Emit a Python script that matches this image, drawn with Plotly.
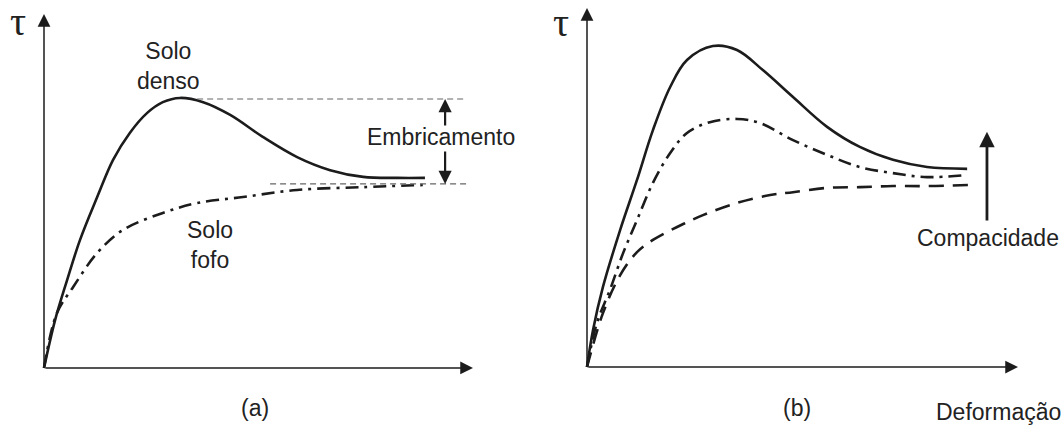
import plotly.graph_objects as go

# Panel (a): dense vs loose soil (strain, shear stress in arbitrary units)
a_dense_x = [0, 0.26, 0.54, 0.84, 1.24, 1.61, 2.00, 2.40, 2.77, 3.17, 3.71, 4.34, 5.10, 5.90, 6.67, 7.44, 8.23, 8.88]
a_dense_y = [0, 1.36, 2.49, 3.62, 4.83, 5.88, 6.64, 7.20, 7.51, 7.63, 7.51, 7.15, 6.53, 5.96, 5.59, 5.40, 5.37, 5.37]
a_loose_x = [0, 0.30, 0.68, 1.24, 1.84, 2.77, 3.57, 4.64, 5.90, 7.44, 8.83]
a_loose_y = [0, 1.55, 2.29, 3.25, 3.90, 4.38, 4.66, 4.83, 5.03, 5.11, 5.17]
peak_level = 7.60
residual_level = 5.20

# Panel (b): three compactness levels
b_dense_x = [0, 0.14, 0.37, 0.77, 1.16, 1.53, 1.93, 2.32, 2.92, 3.48, 4.08, 4.78, 5.57, 6.33, 7.10, 7.89, 8.82]
b_dense_y = [0, 1.03, 2.23, 3.82, 5.21, 6.60, 7.80, 8.55, 8.94, 8.83, 8.27, 7.52, 6.69, 6.13, 5.77, 5.57, 5.52]
b_mid_x = [0, 0.23, 0.53, 0.84, 1.16, 1.53, 1.93, 2.32, 2.85, 3.48, 4.01, 4.78, 5.57, 6.33, 7.10, 7.89, 8.82]
b_mid_y = [0, 1.23, 2.14, 3.18, 4.09, 5.13, 5.96, 6.52, 6.82, 6.91, 6.80, 6.32, 5.91, 5.57, 5.40, 5.29, 5.35]
b_loose_x = [0, 0.37, 0.77, 1.16, 1.53, 2.09, 2.69, 3.48, 4.25, 4.78, 5.57, 6.33, 7.10, 7.89, 8.84]
b_loose_y = [0, 1.50, 2.56, 3.20, 3.54, 3.90, 4.23, 4.57, 4.79, 4.87, 4.99, 5.01, 5.04, 5.04, 5.07]

W, H = 1063, 428
INK = "#1c1c1c"
DASHDOT = "13px,6px,3px,6px"


def px(x):
    return x / W


def py(y):
    return 1 - y / H


fig = go.Figure()

# curves
fig.add_trace(go.Scatter(x=a_dense_x, y=a_dense_y, mode="lines", line=dict(color=INK, width=2.6, shape="spline"),
                         xaxis="x", yaxis="y"))
fig.add_trace(go.Scatter(x=a_loose_x, y=a_loose_y, mode="lines",
                         line=dict(color=INK, width=2.6, shape="spline", dash=DASHDOT), xaxis="x", yaxis="y"))
fig.add_trace(go.Scatter(x=[3.57, 9.77], y=[peak_level, peak_level], mode="lines",
                         line=dict(color="#666", width=1.2, dash="6px,4px"), xaxis="x", yaxis="y"))
fig.add_trace(go.Scatter(x=[5.27, 9.88], y=[residual_level, residual_level], mode="lines",
                         line=dict(color="#666", width=1.2, dash="6px,4px"), xaxis="x", yaxis="y"))

fig.add_trace(go.Scatter(x=b_dense_x, y=b_dense_y, mode="lines", line=dict(color=INK, width=2.6, shape="spline"),
                         xaxis="x2", yaxis="y2"))
fig.add_trace(go.Scatter(x=b_mid_x, y=b_mid_y, mode="lines",
                         line=dict(color=INK, width=2.6, shape="spline", dash=DASHDOT), xaxis="x2", yaxis="y2"))
fig.add_trace(go.Scatter(x=b_loose_x, y=b_loose_y, mode="lines",
                         line=dict(color=INK, width=2.6, shape="spline", dash="15px,9px"), xaxis="x2", yaxis="y2"))


def arrow(xref, yref, x0, y0, x1, y1, width, size):
    fig.add_annotation(x=x1, y=y1, ax=x0, ay=y0, xref=xref, yref=yref, axref=xref, ayref=yref,
                       text="", showarrow=True, arrowhead=2, arrowsize=size, arrowwidth=width,
                       arrowcolor=INK, standoff=0, startstandoff=0)


# axes with arrowheads
arrow("x", "y", 0, 0, 10, 0, 1.5, 1.7)
arrow("x", "y", 0, 0, 0, 10, 1.5, 1.7)
arrow("x2", "y2", 0, 0, 10, 0, 1.5, 1.7)
arrow("x2", "y2", 0, 0, 0, 10, 1.5, 1.7)

# embricamento double arrow
arrow("x", "y", 9.35, 6.81, 9.35, peak_level, 2.2, 1.2)
arrow("x", "y", 9.35, 6.16, 9.35, residual_level, 2.2, 1.2)

# compacidade arrow
arrow("x2", "y2", 9.28, 4.04, 9.28, 6.55, 2.8, 1.1)

TXT = dict(family="Liberation Sans, Arial, sans-serif", size=23, color="#222")
TAU = dict(family="Liberation Serif, Times New Roman, serif", size=40, color="#222")


def label(text, x, y, font=TXT):
    fig.add_annotation(x=px(x), y=py(y), xref="paper", yref="paper", text=text, showarrow=False,
                       font=font, xanchor="center", yanchor="middle", align="center")


label("τ", 18, 22, TAU)
label("τ", 561, 23, TAU)
label("Solo<br>denso", 168, 66)
label("Solo<br>fofo", 210, 245)
label("Embricamento", 441, 137)
label("(a)", 255, 408)
label("(b)", 797, 408)
label("Compacidade", 988, 238)
label("Deformação", 998, 412)

axis_style = dict(visible=False, showgrid=False, zeroline=False, fixedrange=True)
fig.update_layout(
    width=W, height=H, margin=dict(l=0, r=0, t=0, b=0),
    paper_bgcolor="white", plot_bgcolor="white", showlegend=False,
    xaxis=dict(domain=[px(1.1), px(515.9)], range=[-1, 11], **axis_style),
    yaxis=dict(domain=[0.0575, 0.992], range=[-1, 10.3], **axis_style),
    xaxis2=dict(domain=[px(543.9), px(1061.1)], range=[-1, 11], anchor="y2", **axis_style),
    yaxis2=dict(domain=[0.0586, 0.9897], range=[-1, 10.1], anchor="x2", **axis_style),
)

# page body has a default 8px margin; remove it so the figure sits at the corner
fig.write_html("out.html", config={"displayModeBar": False},
               post_script="document.body.style.margin='0';")
